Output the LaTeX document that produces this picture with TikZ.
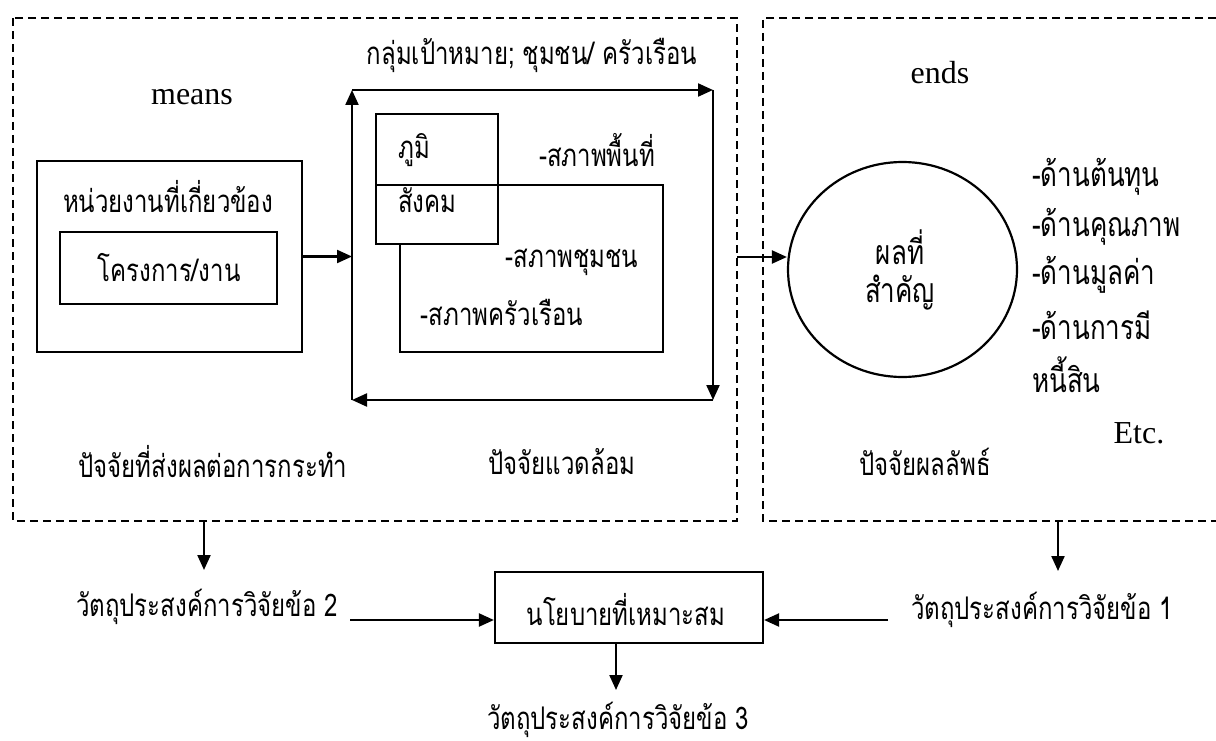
\documentclass[tikz,border=0pt]{standalone}
\usepackage{fontspec}
\usepackage{graphicx}
\setmainfont{Liberation Serif}
\newfontfamily\thai[Script=Thai]{Loma}
\newcommand{\thtxt}[1]{\scalebox{1}[1.3]{#1}}
\usetikzlibrary{arrows.meta,shapes.geometric}
\tikzset{
  ln/.style={line width=2.2pt},
  dsh/.style={line width=2pt, dash pattern=on 8pt off 5pt},
  arr/.style={line width=2.2pt, -{Triangle[length=15pt,width=13pt]}},
  box/.style={draw, line width=2.2pt, rectangle, inner sep=0pt},
  th/.style={inner sep=0pt, font=\thai\fontsize{24}{28}\selectfont},
  thl/.style={inner sep=0pt, font=\thai\fontsize{26}{30}\selectfont},
  la/.style={inner sep=0pt, font=\fontsize{32}{36}\selectfont},
}
\begin{document}
\begin{tikzpicture}[x=1pt,y=-1pt]
\useasboundingbox (0,0) rectangle (1216,741);
\fill[white] (0,0) rectangle (1216,741);
% dashed frames
\draw[dsh] (13,18) rectangle (737,521);
\draw[dsh] (1216,18) -- (763,18) -- (763,521) -- (1216,521);
% left part
\node[la] (means) at (192,97) {means};
\node[box, minimum width=265pt, minimum height=191pt] (unitbox) at (169.5,256.5) {};
\node[th] (unit) at (168,197) {\thtxt{หน่วยงานที่เกี่ยวข้อง}};
\node[box, minimum width=217pt, minimum height=72pt] (projbox) at (168.5,268) {};
\node[th] (proj) at (169,268) {\thtxt{โครงการ/งาน}};
% middle part
\node[th] (title) at (532,55) {\thtxt{กลุ่มเป้าหมาย; ชุมชน/ ครัวเรือน}};
\coordinate (LT) at (352,90);
\coordinate (RT) at (713,90);
\coordinate (RB) at (713,400);
\coordinate (LB) at (352,400);
\draw[arr] (LB) -- (LT);
\draw[arr] (LT) -- (RT);
\draw[arr] (RT) -- (RB);
\draw[arr] (RB) -- (LB);
\draw[arr] (unitbox.east) -- (unitbox.east -| LT);
\node[box, minimum width=122pt, minimum height=130pt] (geo) at (437,179) {};
\draw[ln] (376,185) -- (663,185) -- (663,352) -- (400,352) -- (400,244);
\node[th, anchor=west] (phumi) at (398,150) {\thtxt{ภูมิ}};
\node[th, anchor=west] (sangkhom) at (398,200) {\thtxt{สังคม}};
\node[th] (area) at (597,150) {\thtxt{-สภาพพื้นที่}};
\node[th] (comm) at (572,262) {\thtxt{-สภาพชุมชน}};
\node[th] (house) at (502,312) {\thtxt{-สภาพครัวเรือน}};
% right part
\node[la] (ends) at (940,73) {ends};
\node[draw, ellipse, line width=2.2pt, minimum width=229pt, minimum height=215pt, inner sep=0pt] (circ) at (902.5,269.5) {};
\node[thl] (res1) at (900,247) {\thtxt{ผลที่}};
\node[thl] (res2) at (900,293) {\thtxt{สำคัญ}};
\coordinate (lbE) at (737,257);
\draw[arr] (lbE) -- (lbE -| circ.west);
\node[thl, anchor=west] (d1) at (1032,177) {\thtxt{-ด้านต้นทุน}};
\node[thl, anchor=west] (d2) at (1032,227) {\thtxt{-ด้านคุณภาพ}};
\node[thl, anchor=west] (d3) at (1032,275) {\thtxt{-ด้านมูลค่า}};
\node[thl, anchor=west] (d4) at (1032,325) {\thtxt{-ด้านการมี}};
\node[thl, anchor=west] (d5) at (1032,375) {\thtxt{หนี้สิน}};
\node[la] (etc) at (1139,433) {Etc.};
% bottom labels of frames
\node[th] (f1) at (213,462) {\thtxt{ปัจจัยที่ส่งผลต่อการกระทำ}};
\node[th] (f2) at (562,462) {\thtxt{ปัจจัยแวดล้อม}};
\node[th] (f3) at (925,462) {\thtxt{ปัจจัยผลลัพธ์}};
% objectives
\node[th] (obj2) at (207,607) {\thtxt{วัตถุประสงค์การวิจัยข้อ 2}};
\node[th] (obj1) at (1042,610) {\thtxt{วัตถุประสงค์การวิจัยข้อ 1}};
\node[th] (obj3) at (618,720) {\thtxt{วัตถุประสงค์การวิจัยข้อ 3}};
\node[box, minimum width=268pt, minimum height=71pt] (policy) at (629,607.5) {};
\node[th] (poltext) at (626,610) {\thtxt{นโยบายที่เหมาะสม}};
\coordinate (s2) at (204,521);
\coordinate (e2) at (204,570);
\draw[arr] (s2) -- (e2);
\coordinate (s1) at (1058,521);
\coordinate (e1) at (1058,571);
\draw[arr] (s1) -- (e1);
\coordinate (a2) at (350,620);
\draw[arr] (a2) -- (a2 -| policy.west);
\coordinate (a1) at (888,620);
\draw[arr] (a1) -- (a1 -| policy.east);
\coordinate (p3) at (616,690);
\draw[arr] (p3 |- policy.south) -- (p3);
\end{tikzpicture}
\end{document}
